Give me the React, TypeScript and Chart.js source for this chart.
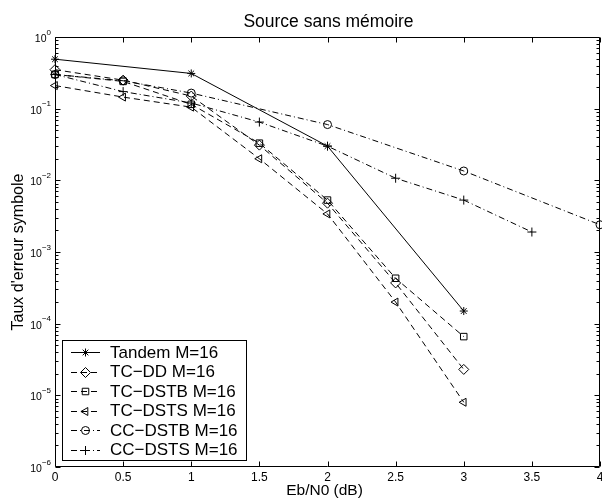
import React, { useEffect, useRef } from 'react';
import { Chart, registerables } from 'chart.js';

Chart.register(...registerables);

// ---- data ----
const xTandem = [0, 1, 2, 3];
const yTandem = [0.49, 0.31, 0.030, 1.5e-4];

const xTC = [0, 0.5, 1, 1.5, 2, 2.5, 3];
const yTCDD = [0.35, 0.25, 0.15, 0.031, 0.0048, 3.7e-4, 2.3e-5];
const yTCDSTB = [0.30, 0.24, 0.115, 0.033, 0.0053, 4.3e-4, 6.6e-5];
const yTCDSTS = [0.21, 0.145, 0.105, 0.020, 0.0034, 2.0e-4, 8.0e-6];

const xCCDSTB = [0, 0.5, 1, 2, 3, 4];
const yCCDSTB = [0.30, 0.245, 0.165, 0.060, 0.0135, 0.0024];

const xCCDSTS = [0, 0.5, 1, 1.5, 2, 2.5, 3, 3.5];
const yCCDSTS = [0.30, 0.173, 0.12, 0.065, 0.030, 0.0107, 0.0053, 0.0019];

const seriesLabels = [
  'Tandem M=16',
  'TC\u2212DD M=16',
  'TC\u2212DSTB M=16',
  'TC\u2212DSTS M=16',
  'CC\u2212DSTB M=16',
  'CC\u2212DSTS M=16',
];

const xTickValues = [0, 0.5, 1, 1.5, 2, 2.5, 3, 3.5, 4];
const xTickLabels = ['0', '0.5', '1', '1.5', '2', '2.5', '3', '3.5', '4'];
const yTickExponents = [0, -1, -2, -3, -4, -5, -6];

const chartTitle = 'Source sans mémoire';
const xAxisTitle = 'Eb/N0 (dB)';
const yAxisTitle = "Taux d'erreur symbole";

const FONT = "'Liberation Sans', Arial, Helvetica, sans-serif";

const DASH = [6, 4];
const DASHDOT = [6, 3, 1, 3];

const styles = [
  { pointStyle: 'star', radius: 4, rotation: 0, dash: [] as number[] },
  { pointStyle: 'rectRot', radius: 5, rotation: 0, dash: DASH },
  { pointStyle: 'rect', radius: 4.6, rotation: 0, dash: DASH },
  { pointStyle: 'triangle', radius: 4.6, rotation: -90, dash: DASH },
  { pointStyle: 'circle', radius: 4, rotation: 0, dash: DASHDOT },
  { pointStyle: 'cross', radius: 4.5, rotation: 0, dash: DASHDOT },
];

const seriesX = [xTandem, xTC, xTC, xTC, xCCDSTB, xCCDSTS];
const seriesY = [yTandem, yTCDD, yTCDSTB, yTCDSTS, yCCDSTB, yCCDSTS];

function drawMarker(ctx: CanvasRenderingContext2D, style: string, x: number, y: number, r: number, rotDeg: number) {
  const rot = (rotDeg * Math.PI) / 180;
  ctx.beginPath();
  if (style === 'circle') {
    ctx.arc(x, y, r, 0, Math.PI * 2);
  } else if (style === 'rect') {
    const s = Math.SQRT1_2 * r;
    ctx.rect(x - s, y - s, 2 * s, 2 * s);
  } else if (style === 'rectRot') {
    ctx.moveTo(x, y - r);
    ctx.lineTo(x + r, y);
    ctx.lineTo(x, y + r);
    ctx.lineTo(x - r, y);
    ctx.closePath();
  } else if (style === 'triangle') {
    for (let i = 0; i < 3; i++) {
      const a = rot - Math.PI / 2 + (i * 2 * Math.PI) / 3;
      const px = x + Math.cos(a) * r;
      const py = y + Math.sin(a) * r;
      if (i === 0) ctx.moveTo(px, py);
      else ctx.lineTo(px, py);
    }
    ctx.closePath();
  } else if (style === 'cross') {
    ctx.moveTo(x - r, y);
    ctx.lineTo(x + r, y);
    ctx.moveTo(x, y - r);
    ctx.lineTo(x, y + r);
  } else if (style === 'star') {
    ctx.moveTo(x - r, y);
    ctx.lineTo(x + r, y);
    ctx.moveTo(x, y - r);
    ctx.lineTo(x, y + r);
    const d = r * Math.SQRT1_2;
    ctx.moveTo(x - d, y - d);
    ctx.lineTo(x + d, y + d);
    ctx.moveTo(x - d, y + d);
    ctx.lineTo(x + d, y - d);
  }
  ctx.stroke();
}

const decorPlugin = {
  id: 'decor',
  afterDraw(chart: any) {
    const ctx: CanvasRenderingContext2D = chart.ctx;
    const a = chart.chartArea;
    const xs = chart.scales.x;
    const ys = chart.scales.y;
    const L = Math.round(a.left) + 0.5;
    const R = Math.round(a.right) - 0.5;
    const T = Math.round(a.top) + 0.5;
    const B = Math.round(a.bottom) - 0.5;
    ctx.save();
    ctx.strokeStyle = '#000';
    ctx.fillStyle = '#000';
    ctx.lineWidth = 1;
    ctx.setLineDash([]);
    // box
    ctx.beginPath();
    ctx.moveTo(L, T);
    ctx.lineTo(R, T);
    ctx.lineTo(R, B);
    ctx.lineTo(L, B);
    ctx.closePath();
    ctx.stroke();

    // x ticks
    ctx.font = `12px ${FONT}`;
    ctx.textAlign = 'center';
    ctx.textBaseline = 'middle';
    xTickValues.forEach((v, i) => {
      const px = Math.round(xs.getPixelForValue(v)) + 0.5;
      ctx.beginPath();
      ctx.moveTo(px, B);
      ctx.lineTo(px, B - 5);
      ctx.moveTo(px, T);
      ctx.lineTo(px, T + 5);
      ctx.stroke();
      ctx.fillText(xTickLabels[i], xs.getPixelForValue(v), a.bottom + 11);
    });

    // y ticks
    yTickExponents.forEach((e) => {
      const py = Math.round(ys.getPixelForValue(Math.pow(10, e))) + 0.5;
      ctx.beginPath();
      ctx.moveTo(L, py);
      ctx.lineTo(L + 5, py);
      ctx.moveTo(R, py);
      ctx.lineTo(R - 5, py);
      ctx.stroke();
      if (e > -6) {
        for (let m = 2; m <= 9; m++) {
          const pm = Math.round(ys.getPixelForValue(m * Math.pow(10, e - 1))) + 0.5;
          ctx.beginPath();
          ctx.moveTo(L, pm);
          ctx.lineTo(L + 3, pm);
          ctx.moveTo(R, pm);
          ctx.lineTo(R - 3, pm);
          ctx.stroke();
        }
      }
      // label
      const yc = ys.getPixelForValue(Math.pow(10, e));
      const expStr = e === 0 ? '0' : '\u2212' + String(-e);
      ctx.font = `8px ${FONT}`;
      const ew = ctx.measureText(expStr).width;
      ctx.textAlign = 'left';
      ctx.textBaseline = 'middle';
      const rightEdge = 51;
      ctx.fillText(expStr, rightEdge - ew, yc - 4.5);
      ctx.font = `10.5px ${FONT}`;
      ctx.textAlign = 'right';
      ctx.fillText('10', rightEdge - ew, yc + 2);
    });

    // titles
    ctx.textAlign = 'center';
    ctx.textBaseline = 'middle';
    ctx.font = `17.5px ${FONT}`;
    ctx.fillText(chartTitle, (a.left + a.right) / 2 + 1, 22);
    ctx.font = `15.5px ${FONT}`;
    ctx.fillText(xAxisTitle, (a.left + a.right) / 2 - 3, 491);
    ctx.save();
    ctx.translate(19, (a.top + a.bottom) / 2);
    ctx.rotate(-Math.PI / 2);
    ctx.font = `16px ${FONT}`;
    ctx.fillText(yAxisTitle, 0, 0);
    ctx.restore();

    // legend
    const lx = 62.5, ly = 340.5, lw = 184, lh = 120;
    ctx.fillStyle = '#fff';
    ctx.fillRect(lx, ly, lw, lh);
    ctx.strokeStyle = '#000';
    ctx.strokeRect(lx, ly, lw, lh);
    ctx.fillStyle = '#000';
    ctx.font = `17px ${FONT}`;
    ctx.textAlign = 'left';
    ctx.textBaseline = 'middle';
    seriesLabels.forEach((lab, i) => {
      const yy = 352 + i * 19.5;
      const st = styles[i];
      ctx.setLineDash(st.dash);
      ctx.beginPath();
      ctx.moveTo(71, Math.round(yy) + 0.5);
      ctx.lineTo(100, Math.round(yy) + 0.5);
      ctx.stroke();
      ctx.setLineDash([]);
      drawMarker(ctx, st.pointStyle, 85.5, Math.round(yy) + 0.5, st.radius, st.rotation);
      ctx.fillText(lab, 110, yy + 1);
    });
    ctx.restore();
  },
};

export default function App() {
  const ref = useRef<HTMLCanvasElement>(null);
  useEffect(() => {
    document.body.style.margin = '0';
    document.body.style.overflow = 'hidden';
    document.documentElement.style.overflow = 'hidden';
    if (!ref.current) return;
    const datasets = seriesLabels.map((lab, i) => ({
      label: lab,
      data: seriesX[i].map((xv, j) => ({ x: xv, y: seriesY[i][j] })),
      borderColor: '#000',
      borderWidth: 1,
      borderDash: styles[i].dash,
      pointStyle: styles[i].pointStyle as any,
      pointRadius: styles[i].radius,
      pointRotation: styles[i].rotation,
      pointBorderColor: '#000',
      pointBackgroundColor: 'rgba(0,0,0,0)',
      pointBorderWidth: 1,
      fill: false,
      tension: 0,
      clip: false as any,
      showLine: true,
    }));
    const chart = new Chart(ref.current, {
      type: 'line',
      data: { datasets },
      options: {
        animation: false,
        responsive: false,
        maintainAspectRatio: false,
        devicePixelRatio: 1,
        layout: { autoPadding: false, padding: { top: 37, right: 2, left: 0, bottom: 0 } },
        plugins: {
          legend: { display: false },
          title: { display: false },
          tooltip: { enabled: false },
        },
        scales: {
          x: {
            type: 'linear',
            min: 0,
            max: 4,
            ticks: { display: false },
            grid: { display: false },
            border: { display: false },
            afterFit: (s: any) => {
              s.height = 35;
            },
          },
          y: {
            type: 'logarithmic',
            min: 1e-6,
            max: 1,
            ticks: { display: false },
            grid: { display: false },
            border: { display: false },
            afterFit: (s: any) => {
              s.width = 55;
            },
          },
        },
      },
      plugins: [decorPlugin],
    });
    return () => chart.destroy();
  }, []);
  return (
    <div style={{ width: 602, height: 502, background: '#fff' }}>
      <canvas ref={ref} width={602} height={502} style={{ display: 'block', width: 602, height: 502 }} />
    </div>
  );
}
